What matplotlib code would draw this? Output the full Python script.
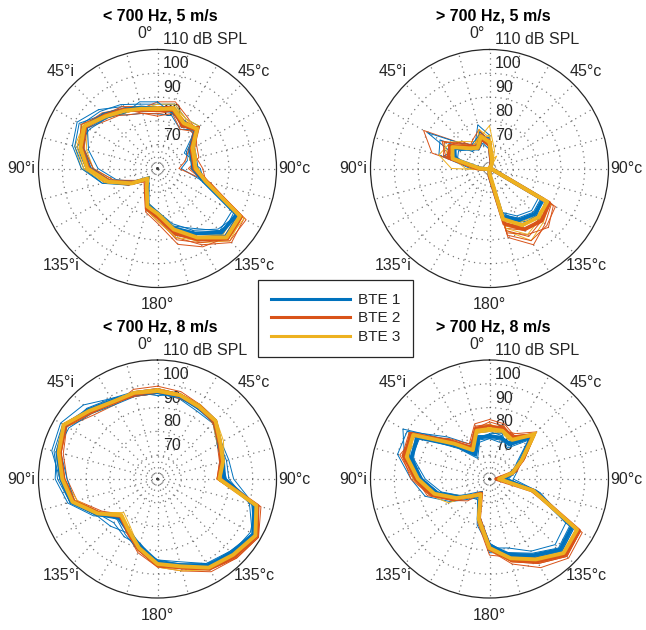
import numpy as np
import matplotlib
matplotlib.use("Agg")
import matplotlib.pyplot as plt
from matplotlib.lines import Line2D

# ---------------- data ----------------
ANGLES_DEG = [0, 15, 30, 45, 60, 75, 90, 105, 120, 135, 150, 165,
              180, 195, 210, 225, 240, 255, 270, 285, 300, 315, 330, 345]
THETA_TICK_DEG = [0, 45, 90, 135, 180, 225, 270, 315]
THETA_TICK_LABELS = ['0°', '45°c', '90°c', '135°c', '180°', '135°i', '90°i', '45°i']
R_TICKS = [70, 80, 90, 100, 110]
R_TICK_LABELS = ['70', '80', '90', '100', '110 dB SPL']
R_MIN, R_MAX = 60, 110
TITLES = ['< 700 Hz, 5 m/s', '> 700 Hz, 5 m/s', '< 700 Hz, 8 m/s', '> 700 Hz, 8 m/s']
SERIES = ['BTE 1', 'BTE 2', 'BTE 3']
COLORS = ['#0072BD', '#D95319', '#EDB120']

# ---- panel 1: < 700 Hz, 5 m/s ----
P1_BTE1_MEAN = [85, 85, 81.5, 82.5, 76, 75, 75, 80, 98.5, 98, 91.5, 86, 79, 76, 68.5, 66, 72, 81, 88.5, 93, 95, 92, 88.5, 86.5]
P1_BTE2_MEAN = [84.5, 85.5, 81, 83, 76.5, 75.5, 75.5, 81.5, 100.5, 101.5, 94.5, 88, 80, 77.5, 69.5, 66.5, 72, 81, 89, 93, 95, 91.5, 88.5, 85.5]
P1_BTE3_MEAN = [85, 86, 82, 83.5, 77, 76, 76, 81, 100, 101, 93.5, 86.5, 79, 76.5, 69, 66, 72.5, 81.5, 89.5, 93.5, 95.5, 91, 88, 86]
P1_BTE1_T1 = [87, 88, 84, 85, 74, 73, 70, 79, 97, 99, 94, 89, 81, 77, 70, 65, 73, 82, 87, 92, 97, 94, 91, 88]
P1_BTE1_T2 = [83, 83, 79, 83, 78, 77, 77, 82, 99, 96, 90, 84, 78, 75, 67, 67, 74, 84, 91, 96, 98, 92, 86, 84]
P1_BTE1_T3 = [86, 87, 82, 81, 75, 74, 78, 80, 100, 97, 89, 85, 80, 77, 69, 65, 71, 80, 90, 95, 93, 90, 89, 87]
P1_BTE1_T4 = [84, 86, 80, 84, 77, 76, 74, 81, 96, 97, 92, 87, 79, 75, 68, 66, 73, 84, 92, 97, 99, 95, 90, 85]
P1_BTE1_T5 = [88, 84, 83, 82, 73, 75, 76, 79, 99, 100, 93, 86, 78, 76, 69, 65, 71, 78, 85, 90, 94, 90, 87, 89]
P1_BTE2_T1 = [88, 89, 85, 83, 79, 78, 73, 80, 102, 104, 97, 90, 82, 78, 71, 68, 73, 81, 88, 92, 94, 89, 87, 86]
P1_BTE2_T2 = [82, 84, 79, 82, 75, 72, 69, 83, 101, 102, 96, 91, 81, 78, 70, 66, 71, 80, 90, 95, 96, 93, 89, 84]
P1_BTE2_T3 = [85, 86, 83, 84, 77, 77, 79, 81, 99, 100, 93, 87, 79, 77, 68, 67, 72, 83, 89, 93, 95, 90, 88, 85]
P1_BTE2_T4 = [86, 87, 80, 85, 78, 76, 74, 82, 103, 103, 95, 89, 81, 78, 70, 66, 74, 82, 90, 94, 97, 92, 90, 87]
P1_BTE2_T5 = [83, 85, 82, 81, 75, 75, 77, 80, 100, 101, 98, 93, 83, 79, 71, 67, 70, 79, 87, 92, 95, 91, 86, 84]
P1_BTE3_T1 = [86, 87, 83, 84, 78, 76, 75, 80, 101, 103, 96, 88, 81, 77, 70, 66, 74, 83, 92, 96, 96, 90, 87, 87]
P1_BTE3_T2 = [84, 85, 81, 82, 76, 75, 77, 82, 99, 100, 92, 85, 78, 76, 68, 67, 71, 79, 87, 91, 94, 92, 89, 85]
P1_BTE3_T3 = [87, 88, 84, 85, 77, 77, 74, 80, 100, 101, 94, 87, 80, 76, 69, 65, 73, 82, 90, 94, 97, 91, 88, 86]
P1_BTE3_T4 = [85, 87, 84, 83, 78, 77, 75, 82, 102, 102, 95, 90, 82, 78, 70, 67, 72, 80, 88, 92, 95, 90, 87, 86]
P1_BTE3_T5 = [86, 86, 81, 84, 76, 74, 77, 80, 98, 99, 92, 86, 79, 75, 68, 65, 73, 83, 91, 95, 96, 92, 89, 87]

# ---- panel 2: > 700 Hz, 5 m/s ----
P2_BTE1_MEAN = [70, 63, 61, 60, 60, 60, 60, 61, 86, 87, 85, 81, 63, 60, 60, 60, 60, 61, 64, 75, 77, 72, 70, 73]
P2_BTE2_MEAN = [70, 63, 61, 60, 60, 60, 60, 61, 89, 91, 89.5, 84, 63, 60, 60, 60, 60, 61, 65, 78, 79, 73, 70, 73]
P2_BTE3_MEAN = [71, 64, 62, 60, 60, 60, 60, 61, 88, 89, 87.5, 82, 62, 60, 60, 60, 60, 61, 64, 76, 78, 72, 70, 74]
P2_BTE1_T1 = [74, 62, 60, 60, 60, 60, 60, 62, 85, 86, 84, 80, 64, 60, 60, 60, 60, 62, 68, 82, 84, 70, 72, 79]
P2_BTE1_T2 = [68, 65, 62, 60, 60, 60, 60, 60, 88, 89, 88, 84, 62, 60, 60, 60, 60, 60, 63, 72, 90, 74, 69, 71]
P2_BTE1_T3 = [72, 62, 60, 60, 60, 60, 60, 63, 87, 90, 86, 79, 65, 60, 60, 60, 60, 63, 66, 80, 76, 75, 71, 76]
P2_BTE1_T4 = [70, 64, 61, 60, 60, 60, 60, 61, 84, 85, 83, 79, 62, 60, 60, 60, 60, 61, 65, 77, 79, 72, 73, 75]
P2_BTE1_T5 = [73, 63, 60, 60, 60, 60, 60, 62, 86, 88, 87, 82, 64, 60, 60, 60, 60, 62, 64, 74, 75, 71, 69, 74]
P2_BTE2_T1 = [72, 64, 60, 60, 60, 60, 60, 61, 90, 93, 97, 90, 62, 60, 60, 60, 60, 62, 66, 85, 92, 74, 72, 76]
P2_BTE2_T2 = [69, 62, 61, 60, 60, 60, 60, 62, 91, 95, 92, 88, 64, 60, 60, 60, 60, 60, 63, 77, 80, 76, 69, 72]
P2_BTE2_T3 = [71, 65, 62, 60, 60, 60, 60, 60, 87, 90, 90, 86, 63, 60, 60, 60, 60, 61, 65, 74, 78, 72, 74, 77]
P2_BTE2_T4 = [70, 63, 61, 60, 60, 60, 60, 62, 92, 94, 95, 89, 63, 60, 60, 60, 60, 61, 64, 80, 82, 75, 71, 74]
P2_BTE2_T5 = [72, 64, 60, 60, 60, 60, 60, 61, 88, 91, 93, 87, 62, 60, 60, 60, 60, 62, 67, 79, 83, 74, 71, 75]
P2_BTE3_T1 = [78, 68, 63, 60, 60, 60, 60, 63, 89, 92, 95, 87, 62, 60, 60, 60, 60, 62, 76, 82, 80, 71, 70, 74]
P2_BTE3_T2 = [70, 64, 66, 61, 60, 60, 60, 62, 90, 90, 90, 85, 64, 60, 60, 60, 60, 61, 66, 78, 82, 76, 73, 72]
P2_BTE3_T3 = [73, 63, 61, 60, 60, 60, 60, 61, 88, 88, 86, 82, 63, 60, 60, 60, 60, 63, 70, 76, 78, 73, 71, 77]
P2_BTE3_T4 = [71, 65, 62, 60, 60, 60, 60, 62, 87, 90, 92, 86, 63, 60, 60, 60, 60, 61, 64, 75, 77, 72, 72, 75]
P2_BTE3_T5 = [74, 66, 63, 61, 60, 60, 60, 61, 89, 91, 89, 84, 62, 60, 60, 60, 60, 62, 67, 77, 79, 74, 70, 73]

# ---- panel 3: < 700 Hz, 8 m/s ----
P3_BTE1_MEAN = [96.5, 96, 94.5, 94, 90, 88.5, 88, 102, 106.5, 104, 102, 97.5, 95, 89, 85, 83, 89.5, 97.5, 100.5, 103.5, 105, 101, 98, 97]
P3_BTE2_MEAN = [97, 96.5, 95, 94, 90, 88, 86, 103.5, 108, 106, 103.5, 98.5, 96, 90.5, 85, 82, 88.5, 96.5, 99.5, 102.5, 105, 100, 97, 97]
P3_BTE3_MEAN = [97, 96.5, 95, 94.5, 90.5, 88.5, 86, 103, 107.5, 105, 103, 98, 95.7, 90, 84.5, 81.5, 89, 97, 100, 103, 105.5, 100.5, 97.5, 97.5]
P3_BTE1_T1 = [98, 97, 96, 95, 91, 91, 92, 102, 106, 105, 103, 97, 96, 88, 86, 88, 90, 98, 101, 106, 107, 104, 99, 98]
P3_BTE1_T2 = [96, 95, 93, 93, 89, 88, 89, 101, 107, 103, 101, 96, 94, 90, 84, 82, 91, 99, 103, 104, 103, 99, 96, 96]
P3_BTE1_T3 = [95, 97, 94, 95, 91, 87, 86, 103, 105, 104, 103, 99, 95, 91, 87, 84, 88, 96, 98, 102, 106, 101, 98, 98]
P3_BTE1_T4 = [97, 96, 95, 94, 90, 90, 90, 100, 106, 103, 102, 98, 95, 89, 88, 86, 89, 97, 100, 103, 104, 102, 99, 97]
P3_BTE1_T5 = [96, 97, 94, 95, 89, 88, 88, 102, 107, 105, 101, 97, 94, 90, 85, 83, 90, 98, 102, 105, 106, 100, 97, 96]
P3_BTE2_T1 = [99, 98, 96, 94, 89, 87, 85, 104, 109, 107, 105, 100, 97, 92, 86, 81, 87, 95, 98, 101, 104, 98, 96, 99]
P3_BTE2_T2 = [96, 96, 94, 95, 91, 89, 87, 103, 108, 106, 102, 97, 95, 89, 84, 83, 89, 97, 100, 103, 106, 101, 97, 96]
P3_BTE2_T3 = [97, 95, 95, 93, 90, 88, 85, 104, 107, 105, 104, 99, 96, 91, 85, 81, 90, 98, 101, 104, 105, 100, 98, 97]
P3_BTE2_T4 = [98, 97, 96, 95, 90, 88, 86, 105, 109, 107, 104, 99, 97, 91, 86, 82, 88, 96, 99, 102, 104, 99, 97, 98]
P3_BTE2_T5 = [96, 96, 95, 93, 90, 87, 85, 103, 108, 106, 103, 98, 96, 90, 84, 82, 89, 97, 100, 103, 106, 101, 97, 96]
P3_BTE3_T1 = [98, 97, 96, 95, 92, 89, 86, 104, 108, 104, 104, 100, 97, 90, 83, 80, 88, 95, 99, 102, 104, 99, 96, 97]
P3_BTE3_T2 = [96, 96, 94, 94, 90, 88, 87, 102, 107, 106, 102, 97, 95, 89, 86, 82, 90, 98, 101, 104, 106, 101, 98, 98]
P3_BTE3_T3 = [97, 97, 95, 93, 89, 89, 86, 103, 108, 105, 103, 99, 96, 91, 84, 81, 89, 97, 100, 103, 105, 100, 97, 97]
P3_BTE3_T4 = [97, 96, 95, 95, 91, 88, 85, 103, 107, 104, 103, 98, 96, 90, 85, 81, 89, 96, 100, 103, 106, 100, 98, 97]
P3_BTE3_T5 = [98, 97, 96, 94, 90, 89, 87, 104, 108, 106, 104, 99, 96, 91, 84, 82, 90, 97, 101, 104, 105, 101, 97, 98]

# ---- panel 4: > 700 Hz, 8 m/s ----
P4_BTE1_MEAN = [78, 78, 77, 85, 75, 70, 66, 80, 100, 102, 97, 93, 88, 77.5, 68, 70, 75, 83, 89, 94, 95, 80, 72, 78]
P4_BTE2_MEAN = [82, 82, 80, 86, 76, 70, 63, 79, 103.5, 105, 100, 95, 89, 77, 67, 70, 77, 85, 91, 97, 98, 82, 75, 82]
P4_BTE3_MEAN = [81, 81, 79, 86.5, 75.5, 70, 64, 79, 102.5, 104, 99, 94.5, 89, 77.5, 67.5, 70, 76, 84, 90, 96, 97, 81, 74, 81]
P4_BTE1_T1 = [80, 79, 76, 84, 74, 72, 70, 82, 99, 101, 96, 92, 91, 78, 69, 72, 79, 88, 93, 100, 100, 85, 77, 80]
P4_BTE1_T2 = [77, 76, 78, 86, 77, 68, 65, 78, 101, 103, 98, 94, 87, 76, 66, 68, 74, 81, 87, 93, 96, 78, 70, 76]
P4_BTE1_T3 = [79, 80, 75, 83, 73, 71, 68, 81, 97, 99, 95, 90, 89, 80, 70, 71, 77, 85, 91, 97, 102, 83, 75, 78]
P4_BTE1_T4 = [78, 78, 77, 85, 76, 70, 67, 79, 100, 102, 97, 93, 88, 77, 68, 70, 76, 84, 90, 95, 97, 81, 73, 79]
P4_BTE1_T5 = [77, 77, 78, 86, 75, 69, 66, 81, 101, 103, 98, 93, 87, 78, 67, 69, 75, 82, 88, 94, 94, 79, 71, 77]
P4_BTE2_T1 = [85, 84, 81, 87, 77, 71, 62, 77, 105, 107, 103, 97, 90, 76, 66, 69, 78, 86, 92, 99, 96, 84, 77, 84]
P4_BTE2_T2 = [81, 83, 79, 85, 75, 69, 64, 80, 104, 106, 101, 96, 88, 78, 68, 71, 76, 84, 89, 95, 99, 80, 74, 81]
P4_BTE2_T3 = [83, 81, 82, 88, 76, 72, 63, 78, 102, 104, 98, 94, 92, 79, 67, 73, 78, 87, 91, 98, 97, 83, 76, 83]
P4_BTE2_T4 = [84, 83, 80, 86, 76, 70, 63, 79, 104, 106, 101, 96, 90, 77, 67, 70, 77, 86, 93, 98, 99, 83, 76, 82]
P4_BTE2_T5 = [82, 82, 81, 87, 77, 71, 64, 80, 103, 104, 100, 95, 89, 78, 68, 71, 76, 85, 90, 97, 97, 81, 75, 81]
P4_BTE3_T1 = [82, 83, 80, 87, 76, 70, 64, 80, 103, 105, 100, 96, 90, 76, 68, 70, 80, 86, 92, 97, 98, 79, 73, 82]
P4_BTE3_T2 = [80, 80, 78, 86, 75, 71, 65, 79, 102, 104, 98, 93, 88, 78, 67, 71, 74, 83, 89, 95, 99, 82, 75, 80]
P4_BTE3_T3 = [83, 82, 79, 88, 77, 69, 63, 78, 104, 103, 100, 95, 90, 77, 69, 69, 77, 85, 90, 96, 95, 80, 76, 82]
P4_BTE3_T4 = [81, 81, 79, 87, 76, 70, 64, 79, 103, 105, 99, 95, 89, 78, 68, 70, 77, 85, 91, 96, 97, 81, 74, 81]
P4_BTE3_T5 = [80, 81, 80, 86, 75, 70, 65, 80, 102, 104, 99, 94, 89, 77, 67, 70, 76, 84, 90, 96, 98, 82, 75, 80]

PANELS = [
    {'means': [P1_BTE1_MEAN, P1_BTE2_MEAN, P1_BTE3_MEAN],
     'thin': [[P1_BTE1_T1, P1_BTE1_T2, P1_BTE1_T3, P1_BTE1_T4, P1_BTE1_T5],
              [P1_BTE2_T1, P1_BTE2_T2, P1_BTE2_T3, P1_BTE2_T4, P1_BTE2_T5],
              [P1_BTE3_T1, P1_BTE3_T2, P1_BTE3_T3, P1_BTE3_T4, P1_BTE3_T5]]},
    {'means': [P2_BTE1_MEAN, P2_BTE2_MEAN, P2_BTE3_MEAN],
     'thin': [[P2_BTE1_T1, P2_BTE1_T2, P2_BTE1_T3, P2_BTE1_T4, P2_BTE1_T5],
              [P2_BTE2_T1, P2_BTE2_T2, P2_BTE2_T3, P2_BTE2_T4, P2_BTE2_T5],
              [P2_BTE3_T1, P2_BTE3_T2, P2_BTE3_T3, P2_BTE3_T4, P2_BTE3_T5]]},
    {'means': [P3_BTE1_MEAN, P3_BTE2_MEAN, P3_BTE3_MEAN],
     'thin': [[P3_BTE1_T1, P3_BTE1_T2, P3_BTE1_T3, P3_BTE1_T4, P3_BTE1_T5],
              [P3_BTE2_T1, P3_BTE2_T2, P3_BTE2_T3, P3_BTE2_T4, P3_BTE2_T5],
              [P3_BTE3_T1, P3_BTE3_T2, P3_BTE3_T3, P3_BTE3_T4, P3_BTE3_T5]]},
    {'means': [P4_BTE1_MEAN, P4_BTE2_MEAN, P4_BTE3_MEAN],
     'thin': [[P4_BTE1_T1, P4_BTE1_T2, P4_BTE1_T3, P4_BTE1_T4, P4_BTE1_T5],
              [P4_BTE2_T1, P4_BTE2_T2, P4_BTE2_T3, P4_BTE2_T4, P4_BTE2_T5],
              [P4_BTE3_T1, P4_BTE3_T2, P4_BTE3_T3, P4_BTE3_T4, P4_BTE3_T5]]},
]

# ---------------- style / layout ----------------
plt.rcParams['font.family'] = ['Liberation Sans', 'DejaVu Sans']
FS = 11.5
TXT = '#262626'
W, H = 646, 630
fig = plt.figure(figsize=(W / 100, H / 100), dpi=100)

RPX = 119.0
CENTERS = [(157.5, 168.5), (489.5, 168.5), (157.5, 479.0), (489.5, 479.0)]
TITLE_POS = [(160, 16), (493, 16), (160, 326.5), (493, 326.5)]

theta = np.deg2rad(np.r_[ANGLES_DEG, ANGLES_DEG[:1]])


def closed(v):
    return np.r_[v, v[:1]]


for k, (cx, cy) in enumerate(CENTERS):
    rect = [(cx - RPX) / W, 1 - (cy + RPX) / H, 2 * RPX / W, 2 * RPX / H]
    ax = fig.add_axes(rect, projection='polar')
    ax.set_theta_zero_location('N')
    ax.set_theta_direction(-1)
    ax.set_rlim(R_MIN, R_MAX)
    ax.set_xticks(np.deg2rad(np.arange(0, 360, 15)))
    ax.set_xticklabels([])
    ax.set_yticks(R_TICKS[:-1])
    ax.set_yticklabels([])
    ax.grid(True, color='#404040', linestyle=(0, (1, 3.4)), linewidth=0.9, alpha=0.7)
    ax.spines['polar'].set_color(TXT)
    ax.spines['polar'].set_linewidth(0.9)
    ax.set_facecolor('white')

    # radial labels (beneath data)
    for v, lab in zip(R_TICKS, R_TICK_LABELS):
        ax.text(0.5 + 5.5 / (2 * RPX), 0.5 + (v - R_MIN) / (R_MAX - R_MIN) * 0.5 + 9.5 / (2 * RPX),
                lab, transform=ax.transAxes, ha='left', va='center', fontsize=FS,
                color=TXT, zorder=1)
    # angle labels
    for a, lab in zip(THETA_TICK_DEG, THETA_TICK_LABELS):
        if a == 0:
            ax.text(0.5 - 4.5 / (2 * RPX), 0.5 + 134.5 / (2 * RPX), lab,
                    transform=ax.transAxes, ha='right', va='center', fontsize=FS,
                    color=TXT, clip_on=False)
            continue
        r_lab = R_MIN + (R_MAX - R_MIN) * 136.5 / RPX
        ax.text(np.deg2rad(a), r_lab, lab, ha='center', va='center', fontsize=FS,
                color=TXT, clip_on=False)

    pdata = PANELS[k]
    n_thin = len(pdata['thin'][0])
    for j in range(n_thin):
        for s in range(3):
            ax.plot(theta, closed(pdata['thin'][s][j]), color=COLORS[s], lw=0.7, zorder=2)
    for s in range(3):
        ax.plot(theta, closed(pdata['means'][s]), color=COLORS[s], lw=2.8, zorder=3,
                solid_joinstyle='round')

    tx, ty = TITLE_POS[k]
    fig.text(tx / W, 1 - ty / H, TITLES[k], ha='center', va='center', fontsize=FS,
             fontweight='bold', color='black')

handles = [Line2D([0], [0], color=c, lw=2.2) for c in COLORS]
leg = fig.legend(handles, SERIES, loc='center', bbox_to_anchor=(335.5 / W, 1 - 318.5 / H),
                 fontsize=11, frameon=True, fancybox=False, framealpha=1,
                 edgecolor=TXT, borderpad=0.85, labelspacing=0.3,
                 handlelength=5.2, handletextpad=0.5)
leg.get_frame().set_linewidth(0.9)
for t in leg.get_texts():
    t.set_color(TXT)

fig.savefig('out.png', dpi=100)
